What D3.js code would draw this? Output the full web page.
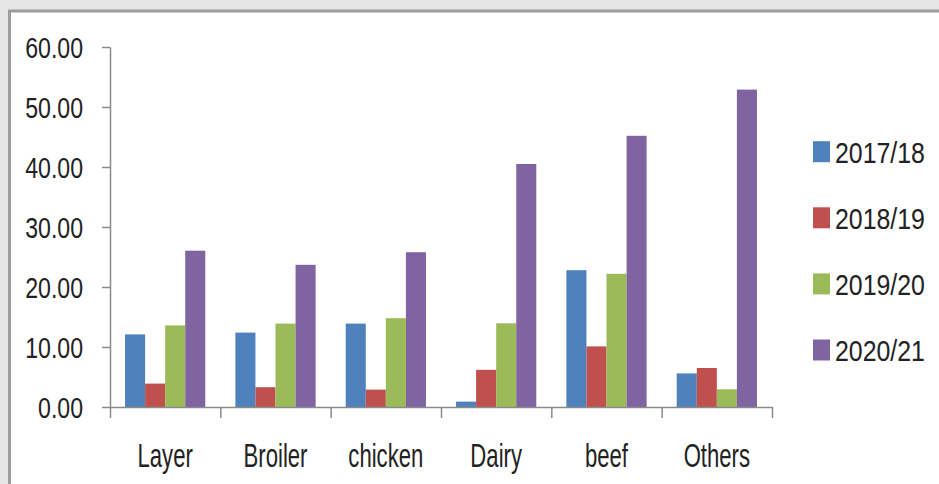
<!DOCTYPE html>
<html>
<head>
<meta charset="utf-8">
<script src="https://cdn.jsdelivr.net/npm/d3@7"></script>
<style>
  html, body { margin: 0; padding: 0; background: #e6e6e6; }
  svg { display: block; }
  text { font-family: "Liberation Sans", Arial, sans-serif; fill: #222; }
</style>
</head>
<body>
<svg id="chart" width="939" height="484"></svg>
<script>
// Categories and yearly series
const categories = ["Layer", "Broiler", "chicken", "Dairy", "beef", "Others"];
const seriesNames = ["2017/18", "2018/19", "2019/20", "2020/21"];
const values2017 = [12.1, 12.4, 13.9, 0.9, 22.8, 5.6];
const values2018 = [3.9, 3.3, 2.9, 6.2, 10.1, 6.5];
const values2019 = [13.6, 13.9, 14.8, 13.95, 22.2, 2.95];
const values2020 = [26.05, 23.7, 25.8, 40.5, 45.2, 52.9];
const yTicks = [0, 10, 20, 30, 40, 50, 60];
const colors = ["#4F81BD", "#C0504D", "#9BBB59", "#8064A2"];

const seriesValues = [values2017, values2018, values2019, values2020];

const svg = d3.select("#chart");

// Panel frame
svg.append("rect")
  .attr("x", 9.5).attr("y", 11).attr("width", 960).attr("height", 500)
  .attr("fill", "#fff").attr("stroke", "#9c9c9c").attr("stroke-width", 3);

const plotLeft = 110, plotRight = 772, plotTop = 47, plotBottom = 407;

const x0 = d3.scaleBand().domain(categories).range([plotLeft, plotRight]).padding(0);
const x1 = d3.scaleBand().domain(seriesNames).range([0, x0.bandwidth()])
  .paddingInner(0).paddingOuter(0.75);
const y = d3.scaleLinear().domain([0, 60]).range([plotBottom, plotTop]);

// Bars
const groups = svg.append("g").selectAll("g")
  .data(categories)
  .join("g")
  .attr("transform", d => `translate(${x0(d)},0)`);

groups.selectAll("rect")
  .data((c, i) => seriesNames.map((s, k) => ({ s, k, v: seriesValues[k][i] })))
  .join("rect")
  .attr("x", d => x1(d.s))
  .attr("width", x1.bandwidth())
  .attr("y", d => y(d.v))
  .attr("height", d => y(0) - y(d.v))
  .attr("fill", d => colors[d.k]);

const axisColor = "#8a8a8a";

// Y axis
const ySx = 0.77;
const yAxis = svg.append("g")
  .attr("transform", `translate(${plotLeft},0)`)
  .call(d3.axisLeft(y).tickValues(yTicks).tickFormat(d3.format(".2f"))
    .tickSize(8).tickSizeOuter(0));
yAxis.select(".domain").attr("stroke", axisColor).attr("stroke-width", 1.5);
yAxis.selectAll(".tick line").attr("stroke", axisColor).attr("stroke-width", 1.5);
yAxis.selectAll(".tick text")
  .attr("font-size", 30)
  .attr("x", -27 / ySx)
  .attr("dy", "0.36em")
  .attr("transform", `scale(${ySx},1)`)
  .attr("fill", "#222");

// X axis: boundary ticks
const xIdx = d3.scaleLinear().domain([0, categories.length]).range([plotLeft, plotRight]);
const xAxis = svg.append("g")
  .attr("transform", `translate(0,${plotBottom})`)
  .call(d3.axisBottom(xIdx).tickValues(d3.range(categories.length + 1))
    .tickFormat("").tickSize(11).tickSizeOuter(0));
xAxis.select(".domain").attr("stroke", axisColor).attr("stroke-width", 1.5);
xAxis.selectAll(".tick line").attr("stroke", axisColor).attr("stroke-width", 1.5);

// X axis: category labels
const xSx = 0.67;
svg.append("g").selectAll("text")
  .data(categories)
  .join("text")
  .attr("transform", d => `translate(${x0(d) + x0.bandwidth() / 2},467) scale(${xSx},1)`)
  .attr("text-anchor", "middle")
  .attr("font-size", 33)
  .text(d => d);

// Legend
const lSx = 0.83;
const legend = svg.append("g").selectAll("g")
  .data(seriesNames)
  .join("g")
  .attr("transform", (d, i) => `translate(813,${151.7 + i * 66.1})`);
legend.append("rect")
  .attr("x", 0).attr("y", -10.5).attr("width", 17).attr("height", 21)
  .attr("fill", (d, i) => colors[i]);
legend.append("text")
  .attr("transform", `translate(22,10.8) scale(${lSx},1)`)
  .attr("font-size", 30)
  .text(d => d);
</script>
</body>
</html>
